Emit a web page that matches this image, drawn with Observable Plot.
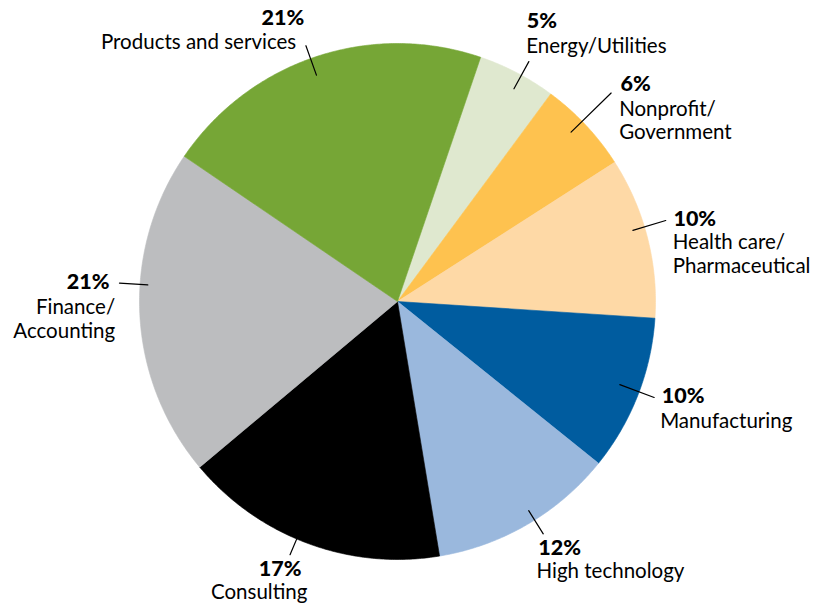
<!DOCTYPE html>
<html>
<head>
<meta charset="utf-8">
<script src="https://cdn.jsdelivr.net/npm/d3@7"></script>
<script src="https://cdn.jsdelivr.net/npm/@observablehq/plot@0.6"></script>
<style>
  html, body { margin: 0; padding: 0; background: #fff; }
  #chart svg { display: block; }
</style>
</head>
<body>
<div id="chart"></div>
<script>
// ---- data (clockwise from the top, starting with Energy/Utilities) ----
const categories = ["Energy/Utilities", "Nonprofit/\nGovernment", "Health care/\nPharmaceutical", "Manufacturing", "High technology", "Consulting", "Finance/\nAccounting", "Products and services"];
const shares = [4.9, 5.8, 10.1, 9.75, 11.6, 16.5, 20.6, 20.7];
const pctLabels = ["5%", "6%", "10%", "10%", "12%", "17%", "21%", "21%"];
const colors = ["#dfe8cf", "#fec24f", "#fed9a6", "#005c9f", "#9ab8dd", "#000000", "#bcbdbf", "#76a636"];

// ---- layout (not data) ----
const startDeg = 18.8;             // angle of first slice edge, clockwise from 12 o'clock
const R = 258;                     // pixels per unit radius
const cx = 397, cy = 301;
// leader line: angle (deg), inner/outer radius (fraction of R)
const leaderAngle = [28.7, 45.7, 73.2, 110.5, 147.9, 203, 273.8, 340.3];
const leaderR0 = [0.94, 0.94, 0.953, 0.92, 0.957, 0.93, 0.97, 0.932];
const leaderR1 = [1.06, 1.157, 1.086, 1.062, 1.063, 1.066, 1.08, 1.053];
// label offsets (px) from the leader's outer end: percent and name (baseline of last line)
const pctDx = [-2, 9.3, 7.7, 7.7, -5, 11.4, -10, -1.7];
const pctDy = [-33.4, -2.4, 5, 5.7, 21, 21, 6, -20.7];
const nameDx = [-2.6, 8, 7, 6, -6.7, 17.4, -4.3, -9.7];
const nameDy = [-8.4, 46.3, 52.4, 30.7, 44.3, 44.3, 55, 3.3];
const anchors = ["start", "start", "start", "start", "start", "end", "end", "end"];

// ---- build geometry from data ----
const total = d3.sum(shares);
const rad = d => d * Math.PI / 180;
const slices = [];
let a = rad(startDeg);
shares.forEach((v, i) => {
  const a0 = a, a1 = a + v / total * 2 * Math.PI;
  const n = Math.max(2, Math.ceil((a1 - a0) / rad(0.5)));
  slices.push({cat: categories[i], x: 0, y: 0, k: i});
  for (let j = 0; j <= n; j++) {
    const t = a0 + (a1 - a0) * j / n;
    slices.push({cat: categories[i], x: Math.sin(t), y: Math.cos(t), k: i});
  }
  slices.push({cat: categories[i], x: 0, y: 0, k: i});
  a = a1;
});

const leaders = [];
const labels = categories.map((c, i) => {
  const t = rad(leaderAngle[i]);
  const x0 = leaderR0[i] * Math.sin(t), y0 = leaderR0[i] * Math.cos(t);
  const x1 = leaderR1[i] * Math.sin(t), y1 = leaderR1[i] * Math.cos(t);
  leaders.push({k: i, x: x0, y: y0}, {k: i, x: x1, y: y1});
  return {
    cat: c, pct: pctLabels[i], anchor: anchors[i],
    px: x1 + pctDx[i] / R, py: y1 - pctDy[i] / R,
    nx: x1 + nameDx[i] / R, ny: y1 - nameDy[i] / R
  };
});

const font = "Lato, 'Open Sans', sans-serif";
const marks = [
  Plot.line(slices, {x: "x", y: "y", z: "cat", fill: d => colors[d.k], stroke: d => colors[d.k], strokeWidth: 0.6, curve: "linear"}),
  Plot.line(leaders, {x: "x", y: "y", z: "k", stroke: "#000", strokeWidth: 1.2})
];
for (const anchor of ["start", "end"]) {
  const sub = labels.filter(d => d.anchor === anchor);
  marks.push(
    Plot.text(sub, {x: "px", y: "py", text: "pct", textAnchor: anchor, lineAnchor: "bottom", fontSize: 21.5, fontWeight: 900, fill: "#000"}),
    Plot.text(sub, {x: "nx", y: "ny", text: "cat", textAnchor: anchor, lineAnchor: "bottom", fontSize: 20.5, lineHeight: 1.15, fill: "#000"})
  );
}

const chart = Plot.plot({
  width: 824,
  height: 608,
  margin: 0,
  style: {fontFamily: font, background: "#fff"},
  x: {domain: [-1, 1], range: [cx - R, cx + R], axis: null},
  y: {domain: [-1, 1], range: [cy + R, cy - R], axis: null},
  marks
});
document.getElementById("chart").appendChild(chart);
</script>
</body>
</html>
